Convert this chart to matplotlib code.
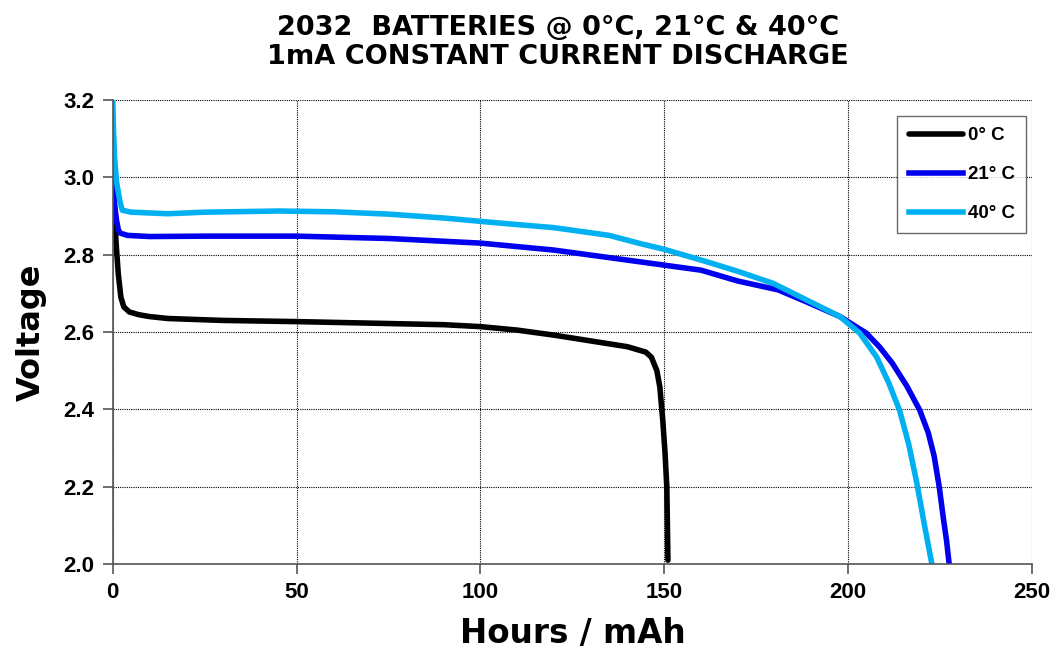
import matplotlib
matplotlib.use('Agg')
import matplotlib.pyplot as plt

# discharge curves (hours / mAh vs voltage)
x_0c = [0, 0.4, 0.9, 1.5, 2.2, 3.0, 4.5, 7, 10, 15, 30, 50, 75, 90, 100, 110, 120,
        130, 140, 145, 146.5, 148, 148.8, 149.6, 150.2, 150.7, 151.0]
v_0c = [3.0, 2.92, 2.83, 2.75, 2.69, 2.665, 2.652, 2.645, 2.64, 2.635, 2.630, 2.627,
        2.622, 2.619, 2.614, 2.605, 2.592, 2.577, 2.562, 2.548, 2.535, 2.50, 2.458,
        2.372, 2.29, 2.20, 2.01]

x_21c = [0, 0.5, 1.0, 1.5, 2.0, 4, 10, 25, 50, 75, 100, 120, 140, 150, 160, 170, 181,
         188.7, 197.8, 205, 208.6, 212, 216, 219.5, 221.8, 223.4, 224.8, 225.9, 226.8,
         227.5]
v_21c = [3.0, 2.93, 2.89, 2.865, 2.856, 2.85, 2.847, 2.848, 2.848, 2.842, 2.830,
         2.812, 2.786, 2.773, 2.760, 2.732, 2.709, 2.678, 2.640, 2.597, 2.561, 2.52,
         2.46, 2.398, 2.34, 2.28, 2.20, 2.12, 2.06, 2.0]

x_40c = [0, 0.2, 0.5, 1.0, 1.4, 2.0, 2.6, 5, 15, 25, 45, 60, 75, 90, 105, 120, 135,
         143.4, 150, 161.5, 170, 179.6, 188.7, 197.8, 203.2, 207.8, 211, 214, 216.5,
         218.7, 220.8, 222.8]
v_40c = [3.2, 3.12, 3.05, 2.99, 2.967, 2.935, 2.915, 2.910, 2.906, 2.910, 2.913,
         2.911, 2.905, 2.895, 2.882, 2.870, 2.850, 2.829, 2.814, 2.782, 2.757, 2.726,
         2.683, 2.640, 2.597, 2.535, 2.47, 2.398, 2.31, 2.21, 2.10, 2.0]

fig = plt.figure(figsize=(10.54, 6.54), dpi=100)
ax = fig.add_axes([0.107, 0.1376, 0.872, 0.7094])

ax.plot(x_0c, v_0c, color='black', lw=4.0, label='0° C', solid_capstyle='round')
ax.plot(x_21c, v_21c, color='#0000ee', lw=4.0, label='21° C')
ax.plot(x_40c, v_40c, color='#00b0f0', lw=4.0, label='40° C')

ax.set_xlim(0, 250)
ax.set_ylim(2.0, 3.2)
ax.set_xticks([0, 50, 100, 150, 200, 250])
ax.set_yticks([2.0, 2.2, 2.4, 2.6, 2.8, 3.0, 3.2])
ax.set_yticklabels(['2.0', '2.2', '2.4', '2.6', '2.8', '3.0', '3.2'])
ax.grid(True, color='black', linestyle=(0, (1, 1)), linewidth=0.8)
ax.set_axisbelow(True)
for s in ['top', 'right']:
    ax.spines[s].set_visible(False)
for s in ['left', 'bottom']:
    ax.spines[s].set_color('#555555')
    ax.spines[s].set_linewidth(1.2)

ax.tick_params(direction='out', length=7, width=1.2, color='#555555', pad=6)
for lab in ax.get_xticklabels() + ax.get_yticklabels():
    lab.set_fontfamily('Liberation Sans')
    lab.set_fontweight('bold')
    lab.set_fontsize(16)

ax.set_xlabel('Hours / mAh', fontfamily='DejaVu Sans', fontweight='bold', fontsize=23.5, labelpad=10)
ax.set_ylabel('Voltage', fontfamily='DejaVu Sans', fontweight='bold', fontsize=23, labelpad=12)

fig.text(0.529, 0.977, '2032  BATTERIES @ 0°C, 21°C & 40°C\n1mA CONSTANT CURRENT DISCHARGE',
         ha='center', va='top', fontfamily='DejaVu Sans', fontweight='bold', fontsize=19.5,
         linespacing=1.16)

leg = ax.legend(loc='upper right', bbox_to_anchor=(0.9935, 0.9655), borderaxespad=0,
                frameon=True, fancybox=False, edgecolor='#444444', handlelength=2.9,
                handletextpad=0.25, labelspacing=1.16, borderpad=0.6,
                prop={'family': 'Liberation Sans', 'weight': 'bold', 'size': 13.5})
leg.get_frame().set_linewidth(1.0)

fig.savefig('out.png', dpi=100, facecolor='white')
